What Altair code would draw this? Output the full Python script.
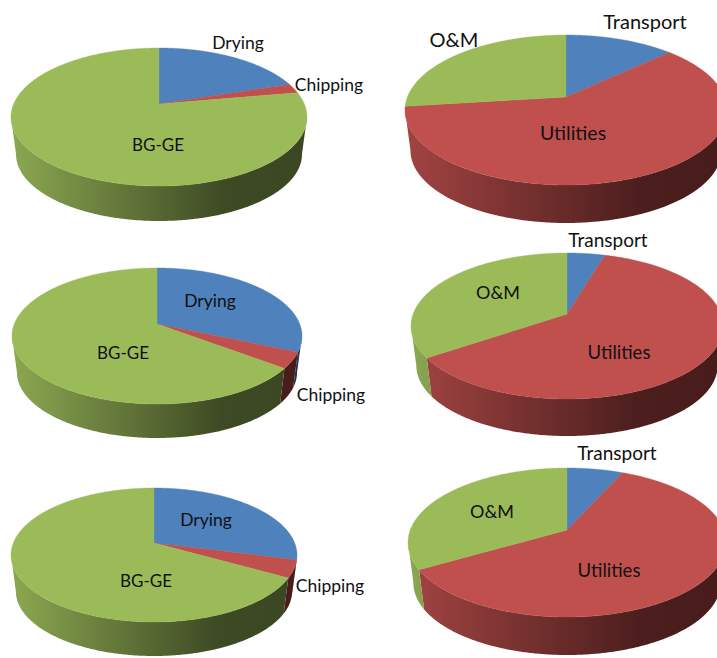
import math
import altair as alt
import pandas as pd

# Cost shares (percent) of each pie, clockwise from twelve o'clock
process_names = ["Drying", "Chipping", "BG-GE"]
process_top = [20.0, 2.2, 77.8]
process_mid = [31.5, 3.8, 64.7]
process_low = [29.0, 4.2, 66.8]

cost_names = ["Transport", "Utilities", "O&M"]
cost_top = [13.0, 60.0, 27.0]
cost_mid = [4.6, 60.9, 34.5]
cost_low = [6.7, 59.9, 33.4]

TOP = {"Drying": "#4F81BD", "Transport": "#4F81BD",
       "Chipping": "#C0504D", "Utilities": "#C0504D",
       "BG-GE": "#9BBB59", "O&M": "#9BBB59"}
WALL = {"#4F81BD": ("#426D9F", "#223A56", "#1F3550"),
        "#C0504D": ("#A24442", "#4C1F1E", "#481C1B"),
        "#9BBB59": ("#8CA851", "#3E4A24", "#3B4722")}

# Pie placement: apex x/y, half width, far and near rim reach, wall depth
PIES = [
    dict(names=process_names, shares=process_top, cx=159, cy=104, r=148, far=56, near=82, depth=35),
    dict(names=cost_names, shares=cost_top, cx=566, cy=97, r=161, far=62, near=88, depth=38),
    dict(names=process_names, shares=process_mid, cx=157, cy=324, r=145, far=56, near=80, depth=34),
    dict(names=cost_names, shares=cost_mid, cx=567, cy=314, r=156, far=61, near=85, depth=37),
    dict(names=process_names, shares=process_low, cx=154, cy=543, r=143, far=55, near=79, depth=34),
    dict(names=cost_names, shares=cost_low, cx=567, cy=530, r=159, far=62, near=87, depth=38),
]
TAPER = 0.966  # the lower rim sits farther from the eye, so it draws slightly smaller

# Label text, centre x/y, font size
LABELS = [
    ("Drying", 238, 44, 17.5), ("Chipping", 329, 86, 17.5), ("BG-GE", 158, 146, 17),
    ("Transport", 645, 23, 20), ("O&M", 454, 41, 20), ("Utilities", 573, 134, 19.5),
    ("Drying", 210, 302, 17.5), ("Chipping", 331, 396, 17.5), ("BG-GE", 123, 354, 17),
    ("Transport", 608, 241, 19), ("O&M", 498, 294, 18), ("Utilities", 619, 353, 18.5),
    ("Drying", 206, 521, 17.5), ("Chipping", 330, 587, 17.5), ("BG-GE", 146, 582, 17),
    ("Transport", 617, 454, 19), ("O&M", 492, 513, 18), ("Utilities", 609, 571, 18.5),
]

X = alt.X("x:Q", scale=alt.Scale(domain=[0, 717], range=[0, 717]), axis=None)
Y = alt.Y("y:Q", scale=alt.Scale(domain=[0, 658], range=[0, 658]), axis=None)


def rim_point(pie, theta):
    """Perspective projection of the disc rim; theta in degrees clockwise from the top."""
    k = (pie["near"] - pie["far"]) / (pie["near"] + pie["far"])
    b = pie["far"] * (1 + k)
    a = pie["r"] * math.sqrt(1 - k * k)
    t = math.radians(theta)
    w = 1 + k * math.cos(t)
    return pie["cx"] + a * math.sin(t) / w, pie["cy"] - b * math.cos(t) / w, k


def lower_point(pie, theta):
    x, y, _ = rim_point(pie, theta)
    drop = pie["depth"] + (1 - TAPER) * pie["near"]
    return pie["cx"] + TAPER * (x - pie["cx"]), pie["cy"] + drop + TAPER * (y - pie["cy"])


def sweep(a, b):
    n = max(2, int(abs(b - a)) * 2)
    return [a + (b - a) * i / n for i in range(n + 1)]


def outline_frame(points):
    df = pd.DataFrame(points, columns=["x", "y"])
    df["seq"] = range(len(df))
    return df


walls, tops = [], []
for pie in PIES:
    start = 0.0
    for name, share in zip(pie["names"], pie["shares"]):
        end = start + share * 3.6
        color = TOP[name]

        # Outer wall: only the part of the rim that faces the viewer
        k = rim_point(pie, 0)[2]
        lo = math.degrees(math.acos(-k))
        a, b = max(start, lo), min(end, 360 - lo)
        if b > a:
            angles = sweep(a, b)
            points = [rim_point(pie, th)[:2] for th in angles]
            points += [lower_point(pie, th) for th in reversed(angles)]
            points.append(points[0])
            xs = [p[0] for p in points]
            span = max(max(xs) - min(xs), 0.01)
            c0, c1, c2 = WALL[color]
            fill = alt.Gradient(
                gradient="linear",
                x1=(pie["cx"] - pie["r"] - min(xs)) / span,
                x2=(pie["cx"] + pie["r"] - min(xs)) / span,
                y1=0, y2=0,
                stops=[alt.GradientStop(offset=0, color=c0),
                       alt.GradientStop(offset=0.72, color=c1),
                       alt.GradientStop(offset=1, color=c2)],
            )
            walls.append(
                alt.Chart(outline_frame(points))
                .mark_line(fill=fill, strokeWidth=0, clip=True)
                .encode(x=X, y=Y, order="seq:Q")
            )

        # Top face of the slice
        outline = [(pie["cx"], pie["cy"])]
        outline += [rim_point(pie, th)[:2] for th in sweep(start, end)]
        outline.append((pie["cx"], pie["cy"]))
        tops.append(
            alt.Chart(outline_frame(outline))
            .mark_line(fill=color, stroke=color, strokeWidth=0.4, clip=True)
            .encode(x=X, y=Y, order="seq:Q")
        )
        start = end

label_charts = []
for size in sorted({row[3] for row in LABELS}):
    df = pd.DataFrame([r[:3] for r in LABELS if r[3] == size], columns=["label", "x", "y"])
    label_charts.append(
        alt.Chart(df)
        .mark_text(font="Lato", fontSize=size, color="#111111", align="center", baseline="middle")
        .encode(x=X, y=Y, text="label:N")
    )

chart = (
    alt.layer(*walls, *tops, *label_charts)
    .properties(width=717, height=658, padding=0, background="white",
                autosize=alt.AutoSizeParams(type="none"))
    .configure_view(stroke=None)
)

chart.save("out.html", embed_options={"renderer": "svg", "actions": False})
